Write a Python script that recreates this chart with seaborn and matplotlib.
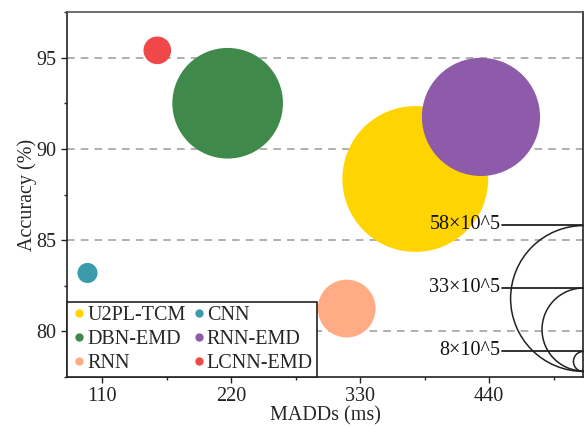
import matplotlib
matplotlib.use("Agg")
import matplotlib.pyplot as plt
from matplotlib.lines import Line2D
from matplotlib.ticker import MultipleLocator
from matplotlib.transforms import offset_copy
import pandas as pd
import seaborn as sns

# Model comparison: compute cost vs. accuracy, bubble diameter = parameter count (x10^5)
models = ["U2PL-TCM", "RNN-EMD", "DBN-EMD", "RNN", "CNN", "LCNN-EMD"]
madds = [377, 433, 217, 318.5, 97.5, 157]
accuracy = [88.35, 91.75, 92.5, 81.25, 83.2, 95.4]
params = [58, 47, 44, 23, 8, 11]
colors = ["#FFD400", "#8E5BAA", "#3F8A4B", "#FFAB84", "#3A9BAA", "#F04848"]

legend_order = ["U2PL-TCM", "DBN-EMD", "RNN", "CNN", "RNN-EMD", "LCNN-EMD"]
ref_params = [58, 33, 8]

x_ticks = [110, 220, 330, 440]
y_ticks = [80, 85, 90, 95]

PT_PER_UNIT = 1.81  # marker diameter in points per 10^5 parameters
FS = 14.5

sns.set_style("ticks")
plt.rcParams["font.family"] = ["Liberation Serif", "DejaVu Serif"]

df = pd.DataFrame({"model": models, "MADDs": madds, "Accuracy": accuracy, "params": params})
palette = dict(zip(models, colors))
sizes = {m: (PT_PER_UNIT * p) ** 2 for m, p in zip(models, params)}

fig = plt.figure(figsize=(5.84, 4.29), dpi=100)
ax = fig.add_axes([67 / 584, 1 - 377 / 429, 516 / 584, 365 / 429])

sns.scatterplot(data=df, x="MADDs", y="Accuracy", hue="model", size="model",
                palette=palette, sizes=sizes, linewidth=0, alpha=1,
                legend=False, ax=ax, zorder=3)

ax.set_xlim(80, 520)
ax.set_ylim(77.5, 97.5)
ax.set_xticks(x_ticks)
ax.set_yticks(y_ticks)
ax.xaxis.set_minor_locator(MultipleLocator(55))
ax.yaxis.set_minor_locator(MultipleLocator(2.5))
ax.tick_params(axis="both", which="major", direction="out", length=4, width=1,
               labelsize=FS, colors="#222222", pad=3.5)
ax.tick_params(axis="both", which="minor", direction="out", length=2.5, width=1,
               colors="#222222")
ax.grid(axis="y", which="major", color="#9a9a9a", linestyle=(0, (5, 4)), linewidth=1.1)
ax.set_axisbelow(True)
for side in ["left", "bottom", "top", "right"]:
    ax.spines[side].set_visible(True)
    ax.spines[side].set_color("#222222")
    ax.spines[side].set_linewidth(1.2)
ax.spines["top"].set_color("#555555")

ax.set_xlabel("MADDs (ms)", fontsize=FS, labelpad=0)
ax.set_ylabel("Accuracy (%)", fontsize=FS, labelpad=0)

# Reference circles for bubble size, anchored on the right spine
anchor_x, anchor_y = 520, 77.85
line_start, text_x = 451, 449.5
for p in ref_params:
    d = PT_PER_UNIT * p
    center_tr = offset_copy(ax.transData, fig=fig, x=0, y=d / 2, units="points")
    top_tr = offset_copy(ax.transData, fig=fig, x=0, y=d, units="points")
    ax.plot([anchor_x], [anchor_y], marker="o", markersize=d, markerfacecolor="none",
            markeredgecolor="#222222", markeredgewidth=1.1, linestyle="",
            transform=center_tr, zorder=4)
    ax.plot([line_start, anchor_x], [anchor_y, anchor_y], color="#222222", lw=1.3,
            transform=top_tr, zorder=4)
    ax.text(text_x, anchor_y, f"{p}×10^5", transform=top_tr, ha="right", va="center",
            fontsize=FS, color="#111111", zorder=4)

handles = [Line2D([], [], marker="o", linestyle="", markersize=6,
                  markerfacecolor=palette[m], markeredgewidth=0) for m in legend_order]
leg = ax.legend(handles, legend_order, loc="lower left", bbox_to_anchor=(0, 0),
                borderaxespad=0, ncol=2, frameon=True, fancybox=False, framealpha=1,
                edgecolor="#222222", fontsize=FS, handletextpad=0.0, handlelength=0.8,
                columnspacing=0.25, borderpad=0.2, labelspacing=0.25)
leg.get_frame().set_linewidth(1.2)
leg.set_zorder(5)

fig.savefig("out.png", dpi=100)
